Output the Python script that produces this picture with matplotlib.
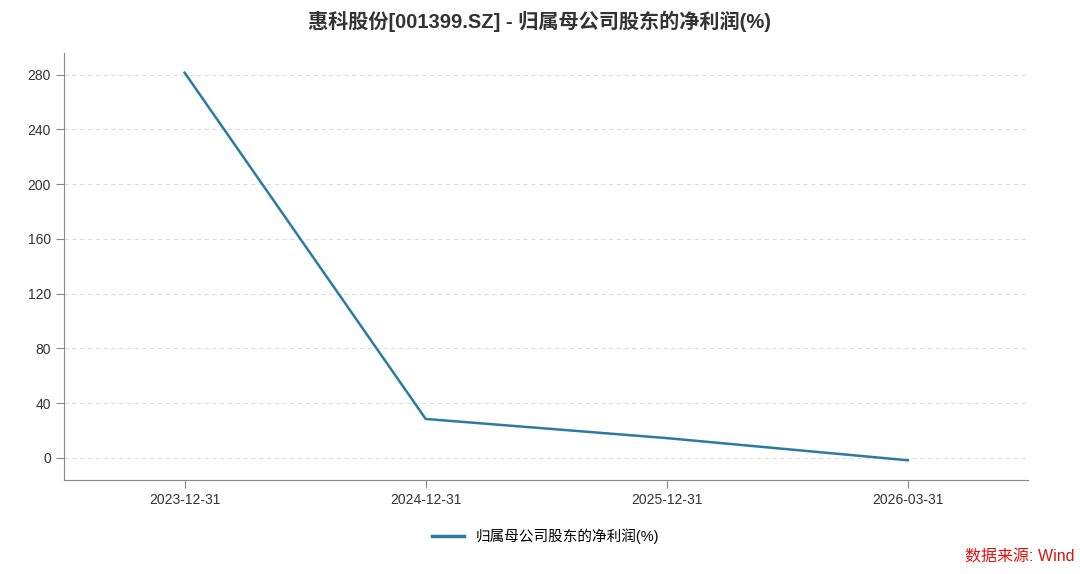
import matplotlib.pyplot as plt
from matplotlib.lines import Line2D

plt.rcParams['font.family'] = ['Liberation Sans', 'Noto Sans CJK SC', 'DejaVu Sans']

# 数据
dates = ['2023-12-31', '2024-12-31', '2025-12-31', '2026-03-31']
net_profit = [281.5, 28.5, 14.5, -1.7]
yticks = [0, 40, 80, 120, 160, 200, 240, 280]

fig = plt.figure(figsize=(10.8, 5.74), dpi=100)
ax = fig.add_axes([0.0593, 0.164, 0.893, 0.744])

x = list(range(len(dates)))
ax.plot(x, net_profit, color='#2a7aa5', linewidth=1.8)

ax.set_xlim(-0.5, len(dates) - 0.5)
ax.set_ylim(-16, 296)
ax.set_xticks(x)
ax.set_xticklabels(dates)
ax.set_yticks(yticks)
ax.tick_params(axis='both', labelsize=10, colors='#333333', length=6, color='#888888')
ax.yaxis.grid(True, linestyle=(0, (4, 3)), color='#dddddd', linewidth=0.8)
ax.set_axisbelow(True)
for s in ['top', 'right']:
    ax.spines[s].set_visible(False)
for s in ['left', 'bottom']:
    ax.spines[s].set_color('#888888')

fig.suptitle('惠科股份[001399.SZ] - 归属母公司股东的净利润(%)', y=0.982,
             fontsize=14.5, fontweight='bold', color='#333333')

handle = Line2D([], [], color='#2a7aa5', linewidth=2.5)
fig.legend([handle], ['归属母公司股东的净利润(%)'], loc='center', bbox_to_anchor=(0.505, 0.066),
           frameon=False, fontsize=10.5, handlelength=2.2)

fig.text(0.995, 0.03, '数据来源: Wind', color='#dd1111', fontsize=11.5, ha='right', va='center')

fig.savefig('out.png', dpi=100)
